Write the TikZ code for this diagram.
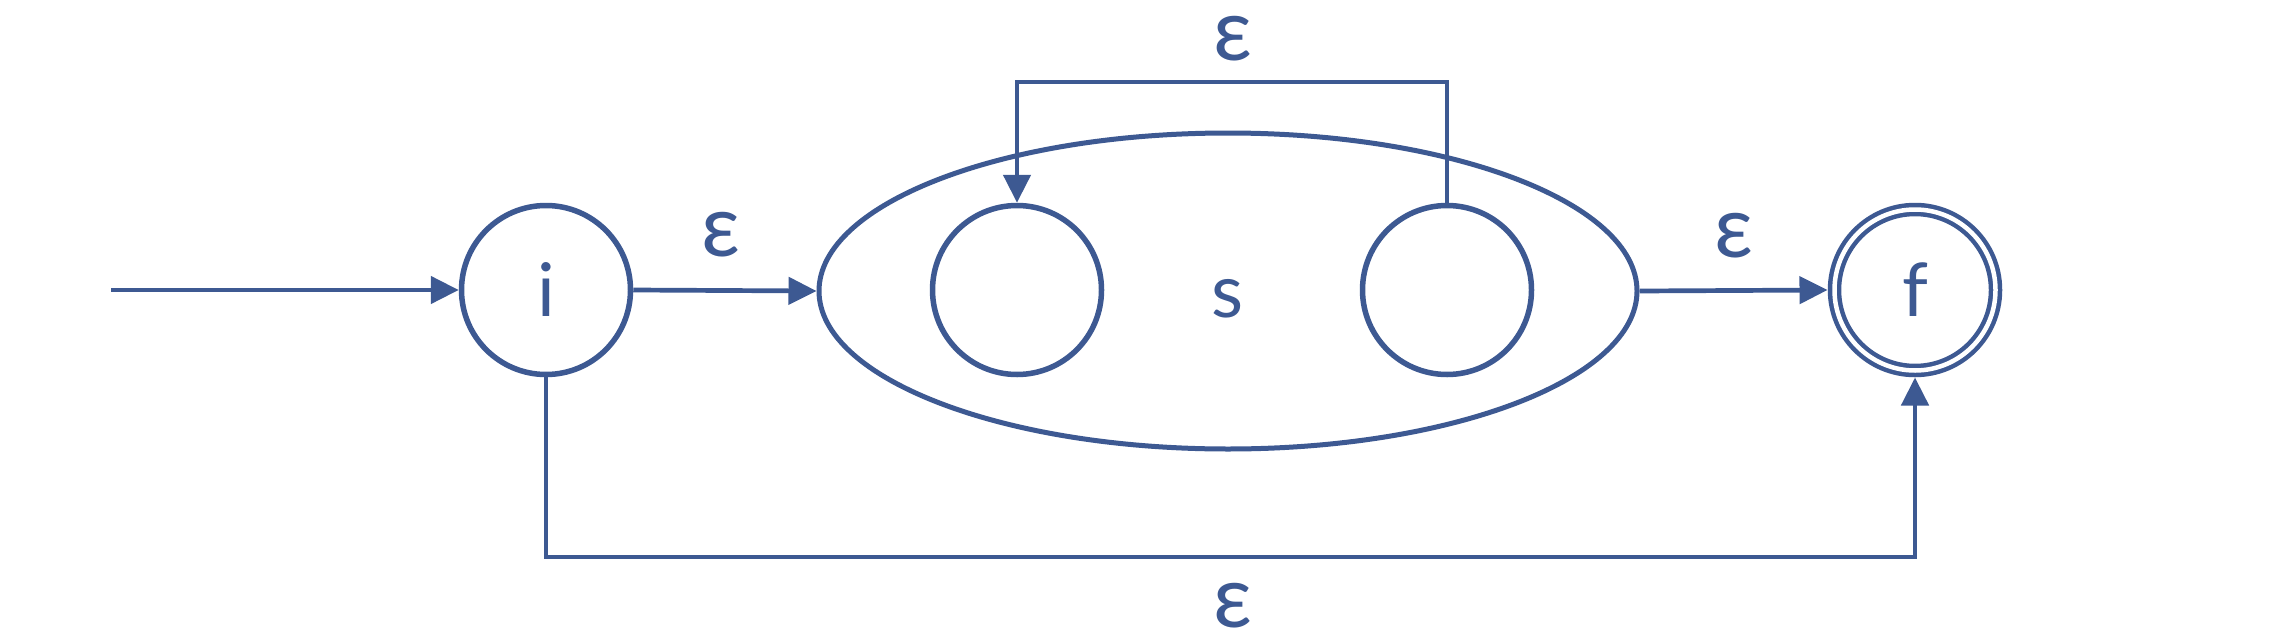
\documentclass[tikz,border=0pt]{standalone}
\usepackage{fontspec}
\setmainfont{Lato}
\usetikzlibrary{arrows.meta,shapes.geometric}
\definecolor{ink}{RGB}{61,89,146}
\begin{document}
\begin{tikzpicture}[x=1pt,y=-1pt,
  bigfont/.style={font=\fontsize{74}{84}\selectfont},
  epsfont/.style={font=\fontsize{86}{94}\selectfont},
  state/.style={circle,draw=ink,line width=5.5pt,minimum size=169pt,inner sep=0pt,text=ink,bigfont},
  accept/.style={circle,draw=ink,line width=4.5pt,double,double distance=4.5pt,minimum size=161pt,inner sep=0pt,outer sep=7pt,text=ink,bigfont},
  blob/.style={ellipse,draw=ink,line width=5pt,minimum width=818pt,minimum height=316pt,inner sep=0pt},
  lab/.style={text=ink,bigfont,inner sep=0pt},
  eps/.style={text=ink,epsfont,inner sep=0pt},
  conn/.style={draw=ink,line width=4.7pt,-{Triangle[length=28pt,width=27pt]}}
]
\useasboundingbox[fill=white] (0,0) rectangle (2284,640);

\node[blob] (S) at (1228,291) {};
\node[lab] (slab) at (1228,299) {s};
\node[state] (i) at (546,290) {i};
\node[state] (l) at (1017,290) {};
\node[state] (r) at (1447,290) {};
\node[accept] (f) at (1915,290) {f};

\coordinate (start) at (111,290);
\coordinate (top) at (0,82);
\coordinate (bot) at (0,557);

\draw[conn] (start) -- (i.west);
\draw[conn] (i.east) -- (S.west);
\draw[conn] (S.east) -- (f.west);
\draw[conn] (r.north) -- (r.north |- top) -- (l.north |- top) -- (l.north);
\draw[conn] (i.south) -- (i.south |- bot) -- (f.south |- bot) -- (f.south);

\node[eps] (e1) at (721,235) {ε};
\node[eps] (e2) at (1734,236) {ε};
\node[eps] (e3) at (1233,39) {ε};
\node[eps] (e4) at (1233,606) {ε};
\end{tikzpicture}
\end{document}
